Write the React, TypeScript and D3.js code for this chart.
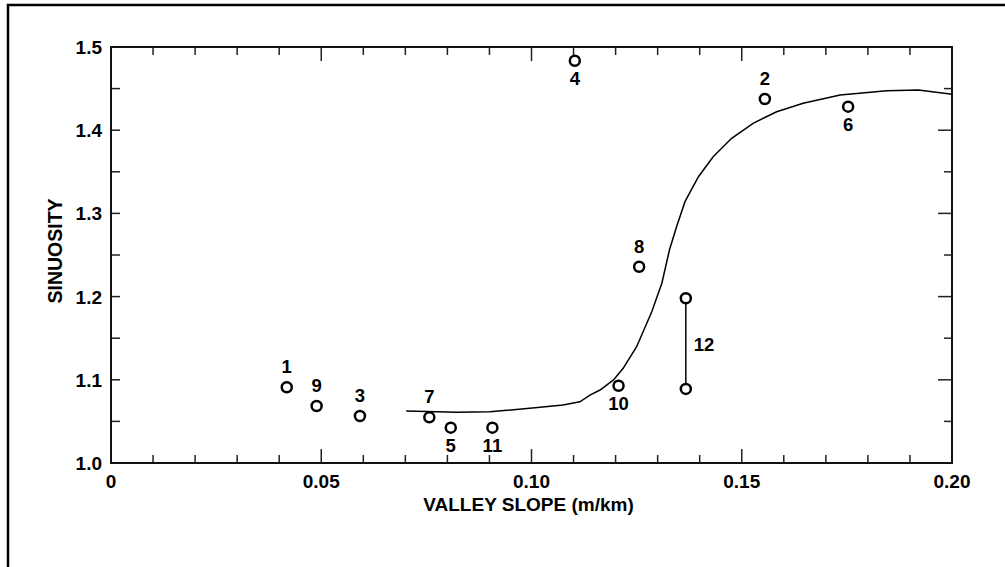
import React from "react";
import * as d3 from "d3";

const pointIds = ["1", "9", "3", "7", "5", "11", "4", "10", "8", "2", "6"];
const pointSlope = [0.0418, 0.0489, 0.0592, 0.0757, 0.0808, 0.0907, 0.1103, 0.1207, 0.1256, 0.1555, 0.1753];
const pointSinuosity = [1.091, 1.0685, 1.0565, 1.0549, 1.0425, 1.0425, 1.4835, 1.0929, 1.2359, 1.4375, 1.4283];
const pointLabelSide = ["above", "above", "above", "above", "below", "below", "below", "below", "above", "above", "below"];

const rangeId = "12";
const rangeSlope = 0.1367;
const rangeSinuosity = [1.198, 1.089];

const curveSlope = [0.0702, 0.0822, 0.0901, 0.0996, 0.1075, 0.1115, 0.1139, 0.1163, 0.1195, 0.1218, 0.125, 0.1286, 0.131, 0.1328, 0.1345, 0.1365, 0.1397, 0.1432, 0.1476, 0.1527, 0.1583, 0.1646, 0.1734, 0.1845, 0.192, 0.2];
const curveSinuosity = [1.0625, 1.0609, 1.0617, 1.0657, 1.0697, 1.0736, 1.0817, 1.0877, 1.0998, 1.1138, 1.1398, 1.1818, 1.216, 1.256, 1.284, 1.3141, 1.3441, 1.3681, 1.3903, 1.4083, 1.4222, 1.4323, 1.4423, 1.4475, 1.4483, 1.4431];

const xTickValues = [0, 0.05, 0.1, 0.15, 0.2];
const xTickLabels = ["0", "0.05", "0.10", "0.15", "0.20"];
const yTickValues = [1.0, 1.1, 1.2, 1.3, 1.4, 1.5];
const yTickLabels = ["1.0", "1.1", "1.2", "1.3", "1.4", "1.5"];

const xTitle = "VALLEY SLOPE (m/km)";
const yTitle = "SINUOSITY";

const W = 1005;
const H = 567;
const left = 111, right = 952, top = 47, bottom = 463;
const FONT = "'Liberation Sans', Arial, Helvetica, sans-serif";

export default function App() {
  const x = d3.scaleLinear().domain([0, 0.2]).range([left, right]);
  const y = d3.scaleLinear().domain([1.0, 1.5]).range([bottom, top]);

  const xMinor = d3.range(0, 21).map((i) => i / 100);
  const yMinor = d3.range(0, 11).map((i) => 1 + i * 0.05);
  const isXMajor = (v: number) => Math.abs(v * 20 - Math.round(v * 20)) < 1e-6;
  const isYMajor = (v: number) => Math.abs(v * 10 - Math.round(v * 10)) < 1e-6;

  const line = d3
    .line<number>()
    .x((_, i) => x(curveSlope[i]))
    .y((_, i) => y(curveSinuosity[i]))
    .curve(d3.curveLinear);

  const labelDy = (side: string) => (side === "above" ? -14 : 24);

  return (
    <svg
      width={W}
      height={H}
      style={{ position: "absolute", left: 0, top: 0, background: "#fff" }}
      fontFamily={FONT}
    >
      <rect x={0} y={0} width={W} height={H} fill="#fff" />
      {/* outer frame */}
      <path d={`M8,${H + 5} L8,5 L${W + 5},5`} fill="none" stroke="#000" strokeWidth={2.5} />

      {/* ticks */}
      {xMinor.map((v, i) => {
        const len = isXMajor(v) ? 14 : 8;
        return (
          <g key={"xt" + i} stroke="#222" strokeWidth={1.5}>
            <line x1={x(v)} x2={x(v)} y1={bottom} y2={bottom - len} />
            <line x1={x(v)} x2={x(v)} y1={top} y2={top + len} />
          </g>
        );
      })}
      {yMinor.map((v, i) => {
        const len = isYMajor(v) ? 14 : 8;
        return (
          <g key={"yt" + i} stroke="#222" strokeWidth={1.5}>
            <line x1={left} x2={left + 9} y1={y(v)} y2={y(v)} />
            <line x1={right} x2={right - len} y1={y(v)} y2={y(v)} />
          </g>
        );
      })}

      {/* plot frame */}
      <rect x={left} y={top} width={right - left} height={bottom - top} fill="none" stroke="#111" strokeWidth={2} />

      {/* tick labels */}
      {xTickValues.map((v, i) => (
        <text key={"xl" + i} x={x(v)} y={bottom + 25} textAnchor="middle" fontSize={19} fontWeight="bold" fill="#000">
          {xTickLabels[i]}
        </text>
      ))}
      {yTickValues.map((v, i) => (
        <text key={"yl" + i} x={left - 9} y={y(v) + 7} textAnchor="end" fontSize={19} fontWeight="bold" fill="#000">
          {yTickLabels[i]}
        </text>
      ))}

      {/* axis titles */}
      <text x={(left + right) / 2 - 3} y={bottom + 48} textAnchor="middle" fontSize={19} fontWeight="bold" fill="#000">
        {xTitle}
      </text>
      <text
        transform={`translate(${62},${(top + bottom) / 2 - 4}) rotate(-90)`}
        textAnchor="middle"
        fontSize={19.5}
        fontWeight="bold"
        fill="#000"
      >
        {yTitle}
      </text>

      {/* fitted curve */}
      <path d={line(curveSlope) || ""} fill="none" stroke="#000" strokeWidth={1.5} />

      {/* range bar for site 12 */}
      <line
        x1={x(rangeSlope)}
        x2={x(rangeSlope)}
        y1={y(rangeSinuosity[0])}
        y2={y(rangeSinuosity[1])}
        stroke="#000"
        strokeWidth={1.5}
      />
      {rangeSinuosity.map((v, i) => (
        <circle key={"rc" + i} cx={x(rangeSlope)} cy={y(v)} r={5} fill="#fff" stroke="#000" strokeWidth={2.5} />
      ))}
      <text
        x={x(rangeSlope) + 8}
        y={(y(rangeSinuosity[0]) + y(rangeSinuosity[1])) / 2 + 7}
        fontSize={18.5}
        fontWeight="bold"
        fill="#000"
      >
        {rangeId}
      </text>

      {/* points */}
      {pointIds.map((id, i) => (
        <g key={"p" + id}>
          <circle cx={x(pointSlope[i])} cy={y(pointSinuosity[i])} r={5} fill="#fff" stroke="#000" strokeWidth={2.5} />
          <text
            x={x(pointSlope[i])}
            y={y(pointSinuosity[i]) + labelDy(pointLabelSide[i])}
            textAnchor="middle"
            fontSize={18.5}
            fontWeight="bold"
            fill="#000"
          >
            {id}
          </text>
        </g>
      ))}
    </svg>
  );
}
